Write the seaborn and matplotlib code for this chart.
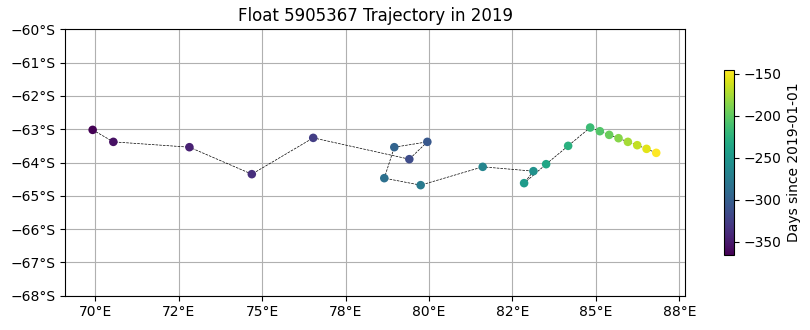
import matplotlib
matplotlib.use("Agg")
import matplotlib.pyplot as plt
import matplotlib.ticker as mticker
import numpy as np
import pandas as pd
import seaborn as sns

# Trajectory data
lons = [69.92, 70.54, 72.82, 74.69, 76.53, 79.41, 79.95, 78.96, 78.66, 79.75,
        81.61, 83.13, 82.85, 83.51, 84.17, 84.83, 85.12, 85.40, 85.68, 85.96,
        86.24, 86.52, 86.81]
lats = [-63.02, -63.38, -63.54, -64.35, -63.26, -63.90, -63.38, -63.54, -64.47, -64.68,
        -64.13, -64.26, -64.62, -64.05, -63.50, -62.95, -63.06, -63.17, -63.27, -63.38,
        -63.48, -63.59, -63.71]
days = [-366, -356, -346, -336, -326, -316, -306, -296, -286, -276,
        -266, -256, -246, -236, -226, -216, -206, -196, -186, -176,
        -166, -156, -146]

df = pd.DataFrame({"lon": lons, "lat": lats, "days": days})

fig = plt.figure(figsize=(8.1, 3.3), dpi=100)
ax = fig.add_axes([0.0802, 0.1039, 0.7658, 0.8073])

vmin, vmax = min(days), max(days)
sns.lineplot(data=df, x="lon", y="lat", sort=False, estimator=None, ax=ax,
             color="k", linewidth=0.5, linestyle="--", zorder=2)
sns.scatterplot(data=df, x="lon", y="lat", hue="days", palette="viridis",
                hue_norm=(vmin, vmax), s=38, linewidth=0, legend=False,
                ax=ax, zorder=3)

ax.set_xlim(69.09, 87.68)
ax.set_ylim(-68, -60)
ax.grid(True, color="#b0b0b0", linewidth=0.8)
ax.xaxis.set_major_locator(mticker.MultipleLocator(2.5))
ax.yaxis.set_major_locator(mticker.MultipleLocator(1))
ax.xaxis.set_major_formatter(mticker.FuncFormatter(lambda v, p: f"{v:.0f}°E"))
ax.yaxis.set_major_formatter(mticker.FuncFormatter(
    lambda v, p: f"{v:.0f}°S".replace("-", "\u2212")))
ax.set_xlabel("")
ax.set_ylabel("")
ax.set_title("Float 5905367 Trajectory in 2019", fontsize=12)

cax = fig.add_axes([0.8938, 0.2273, 0.01235, 0.5597])
sm = plt.cm.ScalarMappable(cmap="viridis", norm=plt.Normalize(vmin, vmax))
sm.set_array([])
cb = fig.colorbar(sm, cax=cax)
cb.set_label("Days since 2019-01-01")
cb.set_ticks([-350, -300, -250, -200, -150])

fig.savefig("out.png", dpi=100)
